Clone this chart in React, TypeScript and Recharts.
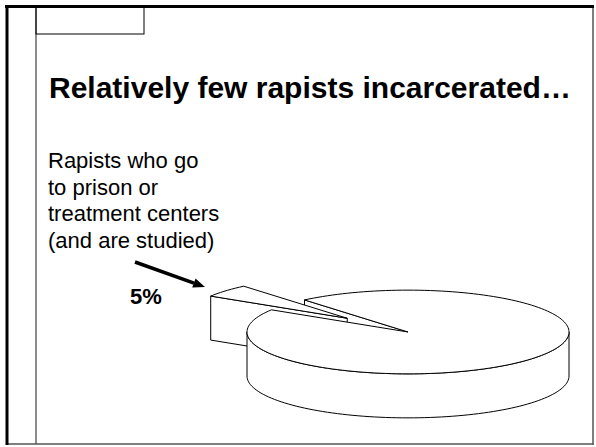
import React from "react";
import { PieChart, Pie } from "recharts";

// slide content
const titleText = "Relatively few rapists incarcerated…";
const noteLines = ["Rapists who go", "to prison or", "treatment centers", "(and are studied)"];
const calloutText = "5%";

// pie data
const sliceNames = ["Studied", "Not studied"];
const sliceValues = [5, 95];
const explodedSlices = ["Studied"];

const data = sliceNames.map((name, i) => ({ name, value: sliceValues[i] }));

const W = 596;
const H = 447;
const CX = 408;
const CY = 332;
const R = 161;
const TILT = 0.26; // ellipse ry / rx
const DEPTH = 44;
const EXPLODE = 0.5; // share of the radius
const RAD = Math.PI / 180;
const FONT = "'Liberation Sans', Arial, Helvetica, sans-serif";

type Layer = "backFaces" | "frontFaces" | "walls" | "tops";

function sliceGeom(p: any) {
  const r = p.outerRadius;
  const ry = r * TILT;
  const name = (p.payload && p.payload.name) ?? p.name;
  const off = explodedSlices.includes(name) ? EXPLODE * r : 0;
  const ox = p.cx + off * Math.cos(p.midAngle * RAD);
  const oy = p.cy - off * TILT * Math.sin(p.midAngle * RAD);
  const a0 = Math.min(p.startAngle, p.endAngle);
  const a1 = Math.max(p.startAngle, p.endAngle);
  const pt = (a: number, z: number): [number, number] => [
    ox + r * Math.cos(a * RAD),
    oy - ry * Math.sin(a * RAD) + z,
  ];
  const arc = (from: number, to: number, z: number) => {
    const n = Math.max(2, Math.ceil(Math.abs(to - from) / 2));
    const out: [number, number][] = [];
    for (let i = 0; i <= n; i++) out.push(pt(from + ((to - from) * i) / n, z));
    return out;
  };
  return { ox, oy, a0, a1, pt, arc, exploded: off > 0 };
}

const toPath = (pts: [number, number][]) =>
  pts.map((q, i) => `${i ? "L" : "M"}${q[0].toFixed(2)},${q[1].toFixed(2)}`).join("") + "Z";

const faceStyle = { fill: "#ffffff", stroke: "#000000", strokeWidth: 1, strokeLinejoin: "round" as const };

function makeLayer(layer: Layer) {
  return (p: any) => {
    const g = sliceGeom(p);
    const paths: string[] = [];
    if (layer === "backFaces" || layer === "frontFaces") {
      if ((layer === "frontFaces") !== g.exploded) return <g />;
      const edges: number[] = [];
      if (Math.cos(g.a0 * RAD) > 0) edges.push(g.a0);
      if (Math.cos(g.a1 * RAD) < 0) edges.push(g.a1);
      edges.forEach((a) => {
        paths.push(
          toPath([[g.ox, g.oy], g.pt(a, 0), g.pt(a, DEPTH), [g.ox, g.oy + DEPTH]])
        );
      });
    } else if (layer === "walls") {
      for (let k = -1; k <= 2; k++) {
        const lo = Math.max(g.a0, 180 + 360 * k);
        const hi = Math.min(g.a1, 360 + 360 * k);
        if (hi - lo > 0.01) {
          const top = g.arc(lo, hi, 0);
          const bottom = g.arc(hi, lo, DEPTH);
          paths.push(toPath([...top, ...bottom]));
        }
      }
    } else {
      paths.push(toPath([[g.ox, g.oy], ...g.arc(g.a0, g.a1, 0)]));
    }
    return (
      <g>
        {paths.map((d, i) => (
          <path key={i} d={d} {...faceStyle} />
        ))}
      </g>
    );
  };
}

const layers: Layer[] = ["backFaces", "frontFaces", "walls", "tops"];

function SlideFrame() {
  return (
    <svg width={W} height={H} style={{ position: "absolute", left: 0, top: 0 }}>
      <rect x={0} y={0} width={W} height={H} fill="#ffffff" />
      <line x1={36} y1={6} x2={36} y2={444} stroke="#666" strokeWidth={1.5} />
      <rect x={36} y={7} width={108} height={27} fill="none" stroke="#000" strokeWidth={1} />
      <line x1={593} y1={6} x2={593} y2={444.5} stroke="#555" strokeWidth={1.5} />
      <line x1={6} y1={444} x2={594} y2={444} stroke="#555" strokeWidth={1.5} />
      <line x1={5} y1={6.5} x2={594} y2={6.5} stroke="#000" strokeWidth={3} />
      <line x1={7} y1={5} x2={7} y2={445} stroke="#000" strokeWidth={3} />

      <text x={49} y={98} fontFamily={FONT} fontWeight="bold" fontSize={30} fill="#000">
        {titleText}
      </text>
      {noteLines.map((t, i) => (
        <text key={t} x={48} y={168 + i * 26.5} fontFamily={FONT} fontSize={22} fill="#000">
          {t}
        </text>
      ))}
      <text x={130} y={304} fontFamily={FONT} fontWeight="bold" fontSize={22} fill="#000">
        {calloutText}
      </text>
      <line x1={135} y1={262} x2={194} y2={283.2} stroke="#000" strokeWidth={3.5} />
      <polygon points="205,287 192.2,287.4 195.6,278.6" fill="#000" />
    </svg>
  );
}

export default function App() {
  return (
    <div style={{ position: "absolute", left: 0, top: 0, width: W, height: H, background: "#fff" }}>
      <SlideFrame />
      <div style={{ position: "absolute", left: 0, top: 0 }}>
        <PieChart width={W} height={H} margin={{ top: 0, right: 0, bottom: 0, left: 0 }}>
          {layers.map((layer) => (
            <Pie
              key={layer}
              data={data}
              dataKey="value"
              nameKey="name"
              cx={CX}
              cy={CY}
              innerRadius={0}
              outerRadius={R}
              startAngle={130}
              endAngle={490}
              fill="transparent"
              stroke="none"
              label={makeLayer(layer)}
              labelLine={false}
              isAnimationActive={false}
            />
          ))}
        </PieChart>
      </div>
    </div>
  );
}
